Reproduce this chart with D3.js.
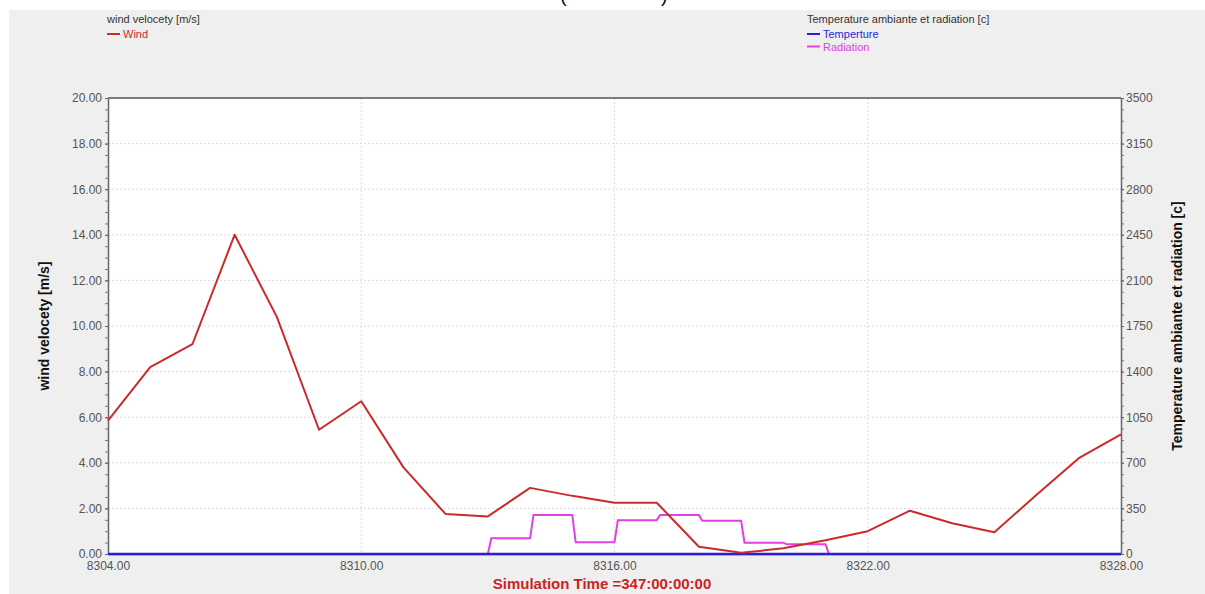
<!DOCTYPE html>
<html>
<head>
<meta charset="utf-8">
<script src="https://cdn.jsdelivr.net/npm/d3@7"></script>
<style>
  html, body { margin: 0; padding: 0; background: #ffffff; }
  svg { display: block; font-family: "Liberation Sans", Arial, sans-serif; }
</style>
</head>
<body>
<svg id="chart" width="1205" height="594"></svg>
<script>
// Simulation hours shown on the x axis
const hours = [8304, 8305, 8306, 8307, 8308, 8309, 8310, 8311, 8312, 8313, 8314, 8315, 8316,
               8317, 8318, 8319, 8320, 8321, 8322, 8323, 8324, 8325, 8326, 8327, 8328];
// Wind velocity [m/s], one value per hour
const wind = [5.85, 8.2, 9.2, 14.0, 10.4, 5.45, 6.7, 3.8, 1.75, 1.65, 2.9, 2.55, 2.25,
              2.25, 0.32, 0.05, 0.25, 0.6, 1.0, 1.9, 1.35, 0.95, 2.6, 4.2, 5.25];
// Ambient temperature, one value per hour
const temperature = [0, 0, 0, 0, 0, 0, 0, 0, 0, 0, 0, 0, 0, 0, 0, 0, 0, 0, 0, 0, 0, 0, 0, 0, 0];
// Radiation: breakpoint times and values (steps switch within a few minutes)
const radiationTime = [8304, 8313.0, 8313.08, 8314.0, 8314.08, 8315.0, 8315.08, 8316.0, 8316.08,
                       8317.0, 8317.08, 8318.0, 8318.08, 8319.0, 8319.08, 8320.0, 8320.08,
                       8321.0, 8321.08, 8328];
const radiation = [0, 0, 120, 120, 300, 300, 90, 90, 260, 260, 300, 300, 256, 256, 87, 87, 74,
                   74, 0, 0];

const xTicks = [8304, 8310, 8316, 8322, 8328];
const leftTicks = [0, 2, 4, 6, 8, 10, 12, 14, 16, 18, 20];
const rightTicks = [0, 350, 700, 1050, 1400, 1750, 2100, 2450, 2800, 3150, 3500];

const svg = d3.select("#chart");
const W = 1205, H = 594;
const plot = { left: 108, right: 1121, top: 98, bottom: 554 };

// background panel
svg.append("rect").attr("x", 0).attr("y", 0).attr("width", W).attr("height", H).attr("fill", "#ffffff");
svg.append("rect").attr("x", 9).attr("y", 10).attr("width", W - 9).attr("height", H - 10).attr("fill", "#efefef");
// bottom of the caption line above the panel
svg.append("text").attr("x", 560).attr("y", 2).attr("font-size", 20).attr("fill", "#111").text("(");
svg.append("text").attr("x", 661).attr("y", 2).attr("font-size", 20).attr("fill", "#111").text(")");

// plot area
svg.append("rect").attr("x", plot.left).attr("y", plot.top)
  .attr("width", plot.right - plot.left).attr("height", plot.bottom - plot.top).attr("fill", "#ffffff");

const x = d3.scaleLinear().domain([8304, 8328]).range([plot.left, plot.right]);
const yL = d3.scaleLinear().domain([0, 20]).range([plot.bottom, plot.top]);
const yR = d3.scaleLinear().domain([0, 3500]).range([plot.bottom, plot.top]);

// grid
const grid = svg.append("g").attr("stroke", "#dcdcdc").attr("stroke-width", 1).attr("stroke-dasharray", "2,2");
leftTicks.slice(1, -1).forEach(v => {
  grid.append("line").attr("x1", plot.left).attr("x2", plot.right).attr("y1", yL(v)).attr("y2", yL(v));
});
xTicks.slice(1, -1).forEach(v => {
  grid.append("line").attr("x1", x(v)).attr("x2", x(v)).attr("y1", plot.top).attr("y2", plot.bottom);
});

// frame top
svg.append("line").attr("x1", plot.left).attr("x2", plot.right).attr("y1", plot.top).attr("y2", plot.top)
  .attr("stroke", "#555").attr("stroke-width", 1.5);

// minor ticks
const minorL = d3.range(0, 20.001, 0.5);
const minorR = d3.range(0, 3500.001, 87.5);

function styleAxis(g) {
  g.selectAll(".domain").attr("stroke", "#666").attr("stroke-width", 1.5);
  g.selectAll(".tick line").attr("stroke", "#666");
  g.selectAll("text").attr("fill", "#555").attr("font-size", 12)
    .attr("font-family", "'Liberation Sans', Arial, sans-serif");
}

svg.append("g").attr("transform", `translate(${plot.left},0)`)
  .call(d3.axisLeft(yL).tickValues(minorL).tickSize(3).tickFormat(""))
  .call(g => { g.select(".domain").remove(); g.selectAll(".tick line").attr("stroke", "#777"); });
svg.append("g").attr("transform", `translate(${plot.right},0)`)
  .call(d3.axisRight(yR).tickValues(minorR).tickSize(3).tickFormat(""))
  .call(g => { g.select(".domain").remove(); g.selectAll(".tick line").attr("stroke", "#777"); });

svg.append("g").attr("transform", `translate(${plot.left},0)`)
  .call(d3.axisLeft(yL).tickValues(leftTicks).tickSizeInner(3).tickSizeOuter(0).tickPadding(3)
    .tickFormat(d3.format(".2f")))
  .call(styleAxis);

svg.append("g").attr("transform", `translate(${plot.right},0)`)
  .call(d3.axisRight(yR).tickValues(rightTicks).tickSizeInner(3).tickSizeOuter(0).tickPadding(2)
    .tickFormat(d3.format("d")))
  .call(styleAxis);

svg.append("g").attr("transform", `translate(0,${plot.bottom})`)
  .call(d3.axisBottom(x).tickValues(xTicks).tickSizeInner(0).tickSizeOuter(0).tickPadding(7)
    .tickFormat(d3.format(".2f")))
  .call(styleAxis)
  .call(g => g.select(".domain").attr("stroke", "#999"));

// series
const lineL = d3.line().x(d => x(d[0])).y(d => yL(d[1]));
const lineR = d3.line().x(d => x(d[0])).y(d => yR(d[1]));

svg.append("path").datum(radiationTime.map((t, i) => [t, radiation[i]]))
  .attr("d", lineR).attr("fill", "none").attr("stroke", "#e040e6").attr("stroke-width", 2);

svg.append("path").datum(hours.map((t, i) => [t, temperature[i]]))
  .attr("d", lineR).attr("fill", "none").attr("stroke", "#2a1fd6").attr("stroke-width", 2.5);

svg.append("path").datum(hours.map((t, i) => [t, wind[i]]))
  .attr("d", lineL).attr("fill", "none").attr("stroke", "#cc2a2a").attr("stroke-width", 2)
  .attr("stroke-linejoin", "round");

// axis titles
svg.append("text").attr("transform", `translate(49,${(plot.top + plot.bottom) / 2}) rotate(-90)`)
  .attr("text-anchor", "middle").attr("font-weight", "bold").attr("font-size", 14).attr("fill", "#111")
  .text("wind velocety [m/s]");
svg.append("text").attr("transform", `translate(1182,${(plot.top + plot.bottom) / 2}) rotate(-90)`)
  .attr("text-anchor", "middle").attr("font-weight", "bold").attr("font-size", 14).attr("fill", "#111")
  .text("Temperature ambiante et radiation [c]");
svg.append("text").attr("x", 602).attr("y", 589).attr("text-anchor", "middle")
  .attr("font-weight", "bold").attr("font-size", 15).attr("fill", "#cc2222")
  .text("Simulation Time =347:00:00:00");

// legends
function legend(x0, title, items) {
  const g = svg.append("g");
  g.append("text").attr("x", x0).attr("y", 23).attr("font-size", 11).attr("fill", "#333").text(title);
  items.forEach((it, i) => {
    const yy = 34 + i * 12.5;
    g.append("line").attr("x1", x0).attr("x2", x0 + 13).attr("y1", yy).attr("y2", yy)
      .attr("stroke", it.color).attr("stroke-width", 2);
    g.append("text").attr("x", x0 + 16).attr("y", yy + 4).attr("font-size", 11).attr("fill", it.color).text(it.name);
  });
}
legend(107, "wind velocety [m/s]", [{ name: "Wind", color: "#cc2a2a" }]);
legend(807, "Temperature ambiante et radiation [c]", [
  { name: "Temperture", color: "#2a1fd6" },
  { name: "Radiation", color: "#e040e6" }
]);
</script>
</body>
</html>
